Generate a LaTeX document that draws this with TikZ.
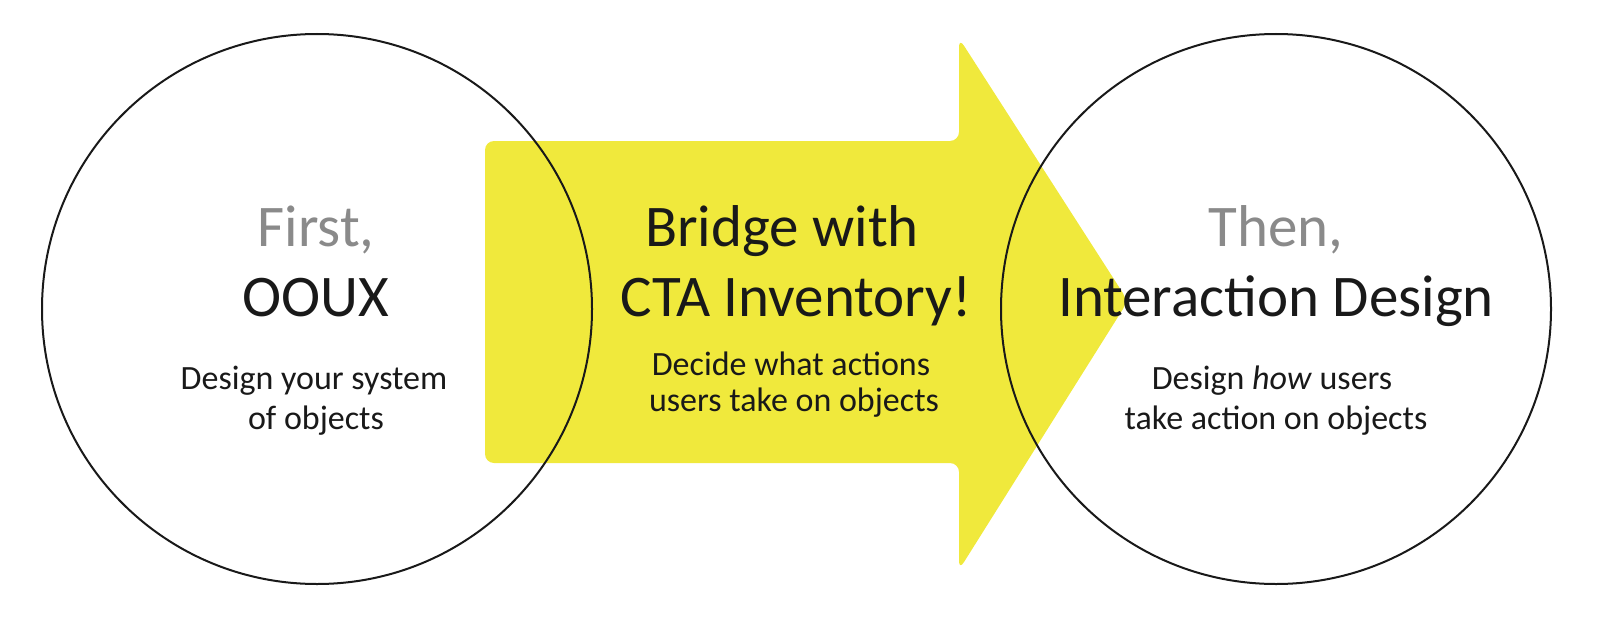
\documentclass[tikz,border=0pt]{standalone}
\usepackage{fontspec}
\setmainfont{Carlito}
\definecolor{arrowyellow}{RGB}{240,233,60}
\definecolor{softgray}{RGB}{138,138,138}
\definecolor{inkblack}{RGB}{25,25,25}
\tikzset{
  ring/.style={circle, draw=inkblack, line width=2pt, minimum size=550pt, inner sep=0pt},
  bigtext/.style={anchor=base, inner sep=0pt, font=\fontsize{59}{62}\selectfont, text=inkblack},
  smalltext/.style={anchor=base, inner sep=0pt, font=\fontsize{34}{36}\selectfont, text=inkblack},
  leadtext/.style={bigtext, text=softgray},
}
\begin{document}
\begin{tikzpicture}[x=1pt,y=-1pt]
\useasboundingbox (0,0) rectangle (1618,634);
% arrow
\fill[arrowyellow, rounded corners=9pt]
  (485,141) -- (959,141) -- (959,38) -- (1128,301) -- (959,570) -- (959,463) -- (485,463) -- cycle;
% circles
\node[ring] (lc) at (317,309) {};
\node[ring] (rc) at (1276,309) {};
% left texts
\node[leadtext] (first) at (316,246) {First,};
\node[bigtext] (ooux) at (316,316) {OOUX};
\node[smalltext] (l1) at (314,389) {Design your system};
\node[smalltext] (l2) at (316,429) {of objects};
% center texts
\node[bigtext] (bridge) at (782,246) {Bridge with};
\node[bigtext] (cta) at (796,316) {CTA Inventory!};
\node[smalltext] (c1) at (791,375) {Decide what actions};
\node[smalltext] (c2) at (794,411) {users take on objects};
% right texts
\node[leadtext] (then) at (1276,246) {Then,};
\node[bigtext] (ixd) at (1276,316) {Interaction Design};
\node[smalltext] (r1) at (1272,389) {Design \textit{how} users};
\node[smalltext] (r2) at (1276,429) {take action on objects};
\end{tikzpicture}
\end{document}
